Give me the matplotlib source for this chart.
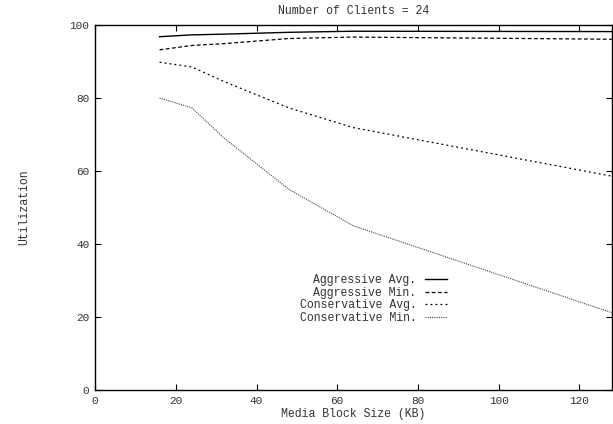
import matplotlib
matplotlib.use("Agg")
import matplotlib.pyplot as plt

# block sizes (KB) and utilization (%) for 24 clients
block_kb = [16, 24, 32, 48, 64, 128]
aggr_avg = [96.8, 97.3, 97.5, 98.0, 98.3, 98.2]
aggr_min = [93.2, 94.4, 94.9, 96.3, 96.7, 96.1]
cons_avg = [89.8, 88.5, 84.5, 77.3, 71.9, 58.6]
cons_min = [80.0, 77.3, 69.0, 55.0, 45.0, 21.2]

plt.rcParams['font.family'] = ['Liberation Mono', 'DejaVu Sans Mono']
plt.rcParams['font.size'] = 8.3

fig = plt.figure(figsize=(6.13, 4.24), dpi=100)
ax = fig.add_axes([0.155, 0.080, 0.843, 0.861])

ax.plot(block_kb, aggr_avg, color='black', lw=1.0, linestyle='-',
        label='Aggressive Avg.')
ax.plot(block_kb, aggr_min, color='black', lw=0.9, linestyle=(0, (3, 2)),
        label='Aggressive Min.')
ax.plot(block_kb, cons_avg, color='black', lw=0.9, linestyle=(0, (1.5, 2.5)),
        label='Conservative Avg.')
ax.plot(block_kb, cons_min, color='#444444', lw=0.8, linestyle=(0, (1, 1)),
        label='Conservative Min.')

ax.set_xlim(0, 128)
ax.set_ylim(0, 100)
ax.set_xticks([0, 20, 40, 60, 80, 100, 120])
ax.set_yticks([0, 20, 40, 60, 80, 100])
ax.tick_params(direction='in', length=4, width=0.8, top=True, right=True,
               colors='black', labelcolor='#333333', labelsize=8.0, pad=4)
for sp in ax.spines.values():
    sp.set_linewidth(1.0)

ax.set_title('Number of Clients = 24', fontsize=8.3, color='#333333', pad=8)
ax.set_xlabel('Media Block Size (KB)', color='#333333', labelpad=2)
ax.set_ylabel('Utilization', color='#333333', labelpad=28)

leg = ax.legend(loc='upper right', bbox_to_anchor=(0.681, 0.318),
                frameon=False, markerfirst=False, handlelength=1.9,
                handletextpad=0.75, labelspacing=0.05, borderpad=0,
                borderaxespad=0)
for t in leg.get_texts():
    t.set_color('#333333')

fig.savefig('out.png', dpi=100)
